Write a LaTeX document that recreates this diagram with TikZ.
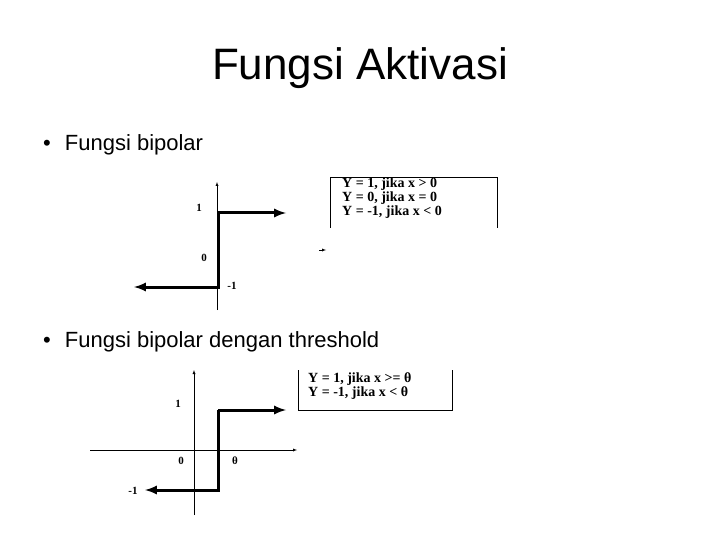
\documentclass[tikz,border=0pt]{standalone}
\usepackage{fontspec}
\setmainfont{Liberation Sans}
\newfontfamily\boxfont{Liberation Serif}
\usetikzlibrary{arrows}
\tikzset{
  >=latex,
  axis/.style ={draw,thin,->},
  step line/.style ={draw,line width=3pt,->},
  tick/.style ={font=\boxfont\bfseries\fontsize{11}{11}\selectfont},
  rule box/.style ={font=\boxfont\bfseries\fontsize{14}{12.5}\selectfont,
                   align=left,anchor=north west,inner sep=0},
  bullet text/.style ={anchor=west,inner sep=0,font=\fontsize{22}{26}\selectfont},
}
\begin{document}
\begin{tikzpicture}[x=1pt,y=-1pt]
\useasboundingbox (0,0) rectangle (720,540);

\node (title) at (360,68) {\fontsize{44}{48}\selectfont Fungsi Aktivasi};
\node[bullet text] (b1) at (43,145) {\textbullet\hspace{14pt}Fungsi bipolar};
\node[bullet text] (b2) at (43,342) {\textbullet\hspace{14pt}Fungsi bipolar dengan threshold};

% bipolar
\coordinate (ya1) at (217,310);
\coordinate (yb1) at (217,182);
\draw[axis] (ya1) -- (yb1);
\coordinate (s1) at (218,213);
\coordinate (s2) at (218,287);
\coordinate (e1) at (286,213);
\coordinate (e2) at (134,287);
\draw[step line] (s1) -- (e1);
\draw[step line] (s1) -- (s2) -- (e2);
\node[tick] (one1) at (199,208) {1};
\node[tick] (zero1) at (204,258) {0};
\node[tick] (mone1) at (232,286) {-1};
\coordinate (m1) at (319,250);
\coordinate (m2) at (326,250);
\draw[->,thin] (m1) -- (m2);
\coordinate (r1) at (330,228);
\coordinate (r2) at (330,177);
\coordinate (r3) at (497,177);
\coordinate (r4) at (497,228);
\draw (r1) -- (r2) -- (r3) -- (r4);
\node[rule box] (rules1) at (342,178)
  {Y = 1, jika x > 0\\Y = 0, jika x = 0\\Y = -1, jika x < 0};

% bipolar dengan threshold
\coordinate (ya2) at (194,515);
\coordinate (yb2) at (194,370);
\coordinate (xa2) at (90,450);
\coordinate (xb2) at (297,450);
\draw[axis] (ya2) -- (yb2);
\draw[axis] (xa2) -- (xb2);
\coordinate (t1) at (218,410);
\coordinate (t2) at (218,490);
\coordinate (f1) at (286,410);
\coordinate (f2) at (145,490);
\draw[step line] (t1) -- (f1);
\draw[step line] (t1) -- (t2) -- (f2);
\node[tick] (one2) at (178,404) {1};
\node[tick] (zero2) at (181,461) {0};
\node[tick] (theta2) at (235,461) {θ};
\node[tick] (mone2) at (133,491) {-1};
\coordinate (q1) at (298,370);
\coordinate (q2) at (298,410);
\coordinate (q3) at (452,410);
\coordinate (q4) at (452,370);
\draw (q1) -- (q2) -- (q3) -- (q4);
\node[rule box] (rules2) at (308,373)
  {Y = 1, jika x >= θ\\Y = -1, jika x < θ};
\end{tikzpicture}
\end{document}
